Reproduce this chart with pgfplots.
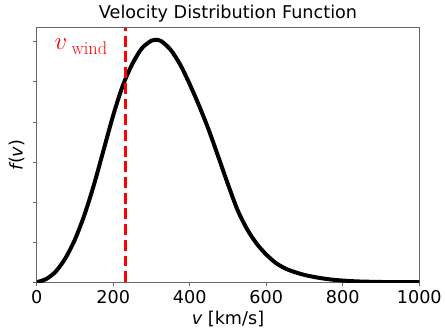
\documentclass[border=0pt]{standalone}
\usepackage{fix-cm}
\usepackage[no-math]{fontspec}
\setmainfont{DejaVu Sans}
\usepackage{pgfplots}
\pgfplotsset{compat=1.18}
\begin{document}
\begin{tikzpicture}
\def\fs{\fontsize{17.8}{21}\selectfont}
\begin{axis}[
  at={(0,0)}, anchor=south west,
  scale only axis,
  width=385bp, height=256bp,
  xmin=0, xmax=1000, ymin=0, ymax=6.35,
  xtick={0,200,400,600,800,1000},
  ytick={0,1,2,3,4,5,6},
  yticklabels={},
  tick align=outside,
  tick pos=left,
  major tick length=3.5bp,
  tick style={black!60, line width=0.8bp},
  axis line style={black!60, line width=0.8bp},
  /pgf/number format/assume math mode=true,
  /pgf/number format/1000 sep={},
  xticklabel style={font=\fs, yshift=-1bp},
  title={Velocity Distribution Function},
  title style={font=\fs, yshift=-4bp},
  xlabel={{\itshape v} [km/s]},
  ylabel={{\itshape f}({\itshape v})},
  xlabel style={font=\fs, yshift=-1bp},
  ylabel style={font=\fs, yshift=-2bp},
]
\addplot[black, line width=4bp, smooth, line join=round] coordinates {
(0,0) (25,0.08) (50,0.27) (75,0.60) (100,1.07) (125,1.69) (150,2.45) (175,3.31)
(200,4.17) (225,4.91) (250,5.45) (275,5.84) (300,6.03) (310,6.05) (325,6.02)
(350,5.80) (375,5.43) (400,4.94) (425,4.39) (450,3.79) (475,3.12) (500,2.44)
(525,1.80) (550,1.32) (575,0.96) (600,0.69) (625,0.48) (650,0.34) (675,0.25)
(700,0.18) (725,0.13) (750,0.09) (775,0.06) (800,0.04) (825,0.025) (850,0.015)
(900,0.005) (950,0.0) (1000,0.0)
};
\addplot[red, line width=3bp, dash pattern=on 11bp off 4.8bp] coordinates {(231,0) (231,6.35)};
\node[anchor=base west, text=red, inner sep=0pt] at (axis cs:46,5.8)
  {\fontsize{25}{30}\selectfont$v$\hspace{4.5bp}\raisebox{-4.5bp}{\fontfamily{lmr}\fontsize{18.5}{21}\selectfont wind}};
\end{axis}
\path[use as bounding box] (-37bp,-46bp) rectangle (408bp,284bp);
\end{tikzpicture}
\end{document}
